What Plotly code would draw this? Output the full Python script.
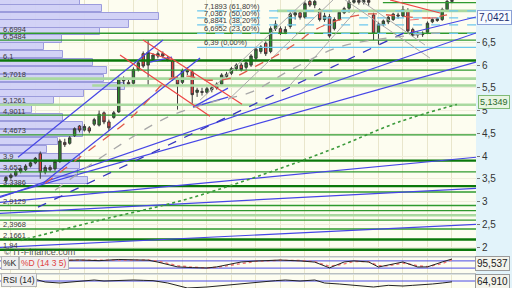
import plotly.graph_objects as go

# ---------------- data ----------------
opens  = [3.46,3.53,3.58,3.66,3.70,3.78,3.85,4.05,3.65,3.75,3.72,3.88,4.30,4.28,4.45,4.66,4.57,4.62,4.70,4.68,
          4.95,4.75,4.85,4.97,5.65,5.62,5.60,5.90,6.25,6.00,6.12,6.20,6.25,6.15,6.10,5.70,5.62,5.88,5.85,5.40,
          5.42,5.40,5.46,5.50,5.58,5.75,5.82,5.92,6.00,5.95,6.00,6.15,6.30,6.48,6.30,6.80,6.80,6.72,6.85,7.10,
          7.15,7.05,7.40,7.32,7.22,7.00,7.06,6.80,7.00,7.15,7.25,7.38,7.42,7.38,7.42,7.10,6.70,6.90,6.95,7.00,
          7.10,7.08,7.20,6.78,6.66,6.70,6.72,6.95,6.98,7.00,7.22,7.40]
highs  = [3.56,3.62,3.70,3.75,3.82,3.88,3.98,4.10,3.80,3.80,3.92,4.37,4.38,4.44,4.63,4.68,4.70,4.66,4.84,5.00,
          4.98,4.80,4.99,5.75,5.75,5.68,5.95,6.08,6.30,6.55,6.26,6.30,6.30,6.20,6.13,5.75,5.92,5.95,5.90,5.50,
          5.50,5.52,5.55,5.62,5.82,5.85,5.96,6.04,6.05,6.08,6.24,6.40,6.44,6.52,6.85,6.98,6.85,6.85,7.16,7.20,
          7.18,7.40,7.45,7.45,7.25,7.15,7.12,7.05,7.20,7.28,7.43,7.48,7.48,7.48,7.48,7.15,6.95,7.00,7.08,7.15,
          7.15,7.30,7.25,6.82,6.74,6.74,6.96,7.05,7.05,7.26,7.45,7.46]
lows   = [3.42,3.48,3.55,3.62,3.67,3.75,3.82,3.50,3.60,3.66,3.68,3.85,4.20,4.25,4.42,4.52,4.54,4.50,4.66,4.65,
          4.70,4.55,4.82,4.95,5.58,5.54,5.57,5.86,5.94,5.55,6.08,6.15,6.16,6.08,5.65,5.02,5.58,5.78,5.12,5.30,
          5.33,5.36,5.40,5.46,5.55,5.70,5.78,5.88,5.86,5.90,5.96,6.10,6.25,6.20,6.26,6.75,6.66,6.68,6.80,7.00,
          7.00,7.02,7.28,7.25,6.96,6.95,6.60,6.76,6.98,7.12,7.15,7.35,7.33,7.33,7.30,6.55,6.45,6.85,6.90,6.97,
          7.02,7.05,6.70,6.62,6.60,6.62,6.68,6.92,6.95,6.97,7.18,7.36]
closes = [3.53,3.58,3.66,3.72,3.78,3.85,3.95,3.65,3.75,3.70,3.88,4.33,4.25,4.40,4.60,4.57,4.65,4.55,4.80,4.92,
          4.75,4.62,4.95,5.70,5.70,5.58,5.90,6.05,5.98,6.28,6.22,6.25,6.20,6.12,5.70,5.58,5.88,5.85,5.35,5.45,
          5.40,5.48,5.50,5.58,5.78,5.80,5.92,6.00,5.90,6.05,6.20,6.35,6.40,6.25,6.80,6.90,6.70,6.78,7.12,7.15,
          7.05,7.35,7.32,7.40,7.00,7.08,6.64,7.00,7.16,7.24,7.38,7.42,7.38,7.42,7.38,6.70,6.90,6.97,7.05,7.12,
          7.08,7.22,6.75,6.65,6.70,6.67,6.92,7.00,7.02,7.22,7.40,7.42]
sessions = list(range(len(closes)))

# volume-at-price profile
vp_price  = [7.388,7.245,7.068,6.903,6.738,6.573,6.407,6.242,6.066,5.879,5.703,5.527,5.372,5.218,5.031,
             4.855,4.679,4.502,4.326,4.150,3.974,3.798,3.632,3.467]
vp_volume = [80,102,159,129,100,62,44,63,93,107,104,125,84,54,32,63,83,83,58,47,80,80,78,88]

# horizontal support / resistance levels
level_prices = [7.372,7.19,6.6994,6.5484,6.1,5.89,5.7018,5.55,5.1261,4.9011,4.4673,3.9,3.652,3.3386,3.21,
                2.9129,2.80,2.70,2.59,2.3968,2.1661,1.94]
level_start  = [76.9,55.3,None,None,None,21.2,None,17.6,None,None,None,None,None,None,None,
                None,None,None,None,None,None,None]
level_kind   = ['n','l','n','n','d','n','l','l','l','n','n','d','n','d','n',
                'n','n','l','n','n','d','d']
label_levels = [6.6994,6.5484,6.1,5.7018,5.1261,4.9011,4.4673,3.9,3.652,3.3386,2.9129,2.3968,2.1661,1.94]

# Fibonacci retracement
fib_prices = [7.1893,7.0367,6.8841,6.6952,6.39]
fib_pcts   = [61.80,50.00,38.20,23.60,0.00]
fib_from   = 39

# trend lines: (session0, price0, session1, price1)
blue_lines = [(2.45,3.974,32.04,6.551),(7.55,3.401,39.6,6.154),(-1.22,3.114,95.9,6.066),
              (-1.22,3.092,95.9,6.705),(82.4,6.705,95.9,7.057),(-1.22,2.742,95.9,3.291),
              (-1.22,1.993,95.9,2.499),(-1.22,2.982,95.9,3.974),(29.39,6.066,33.88,6.176),
              (38.16,5.075,45.3,5.493),(38.16,5.075,45.3,5.295)]
blue_dashed = [(6.53,2.876,82.45,6.771)]
red_lines  = [(27.96,6.551,48.16,5.141),(23.27,6.22,41.63,4.877),(29.39,6.264,33.88,6.11),
              (78.37,7.432,88.57,7.145)]
red_dashed = [(82.4,6.99,89.6,7.057)]
gray_lines = [(39.6,5.229,61.6,7.47),(45.3,5.229,67.1,7.47),(57.96,5.559,71.2,7.167),
              (69.2,7.432,86.5,6.154),(72.2,7.432,85.5,6.44)]

# moving averages
ma_red_idx = [8,17,25,29,33,37,41,46,51,55,59,63,68,74,80,86,90]
ma_red_val = [3.401,4.128,4.789,5.229,5.670,5.758,5.670,5.714,5.978,6.198,6.463,6.771,6.991,7.123,7.079,7.035,7.101]
ma_gray_idx = [10,21,33,42,50,58,68,78,90]
ma_gray_val = [3.247,4.084,4.855,5.185,5.405,5.89,6.396,6.595,6.727]
ma_green_idx = [3,19,36,52,67,80,92]
ma_green_val = [2.145,2.586,3.026,3.577,4.171,4.743,5.1349]

# stochastic (14 3 5)
stoch_idx = [2,6,11,15,19,23,27,29,31,33,35,38,41,43,45,48,51,56,60,63,66,69,71,74,76,78,81,84,86,89,91]
stoch_k   = [85,90,83,88,82,92,88,86,70,50,30,24,21,30,46,71,79,87,80,70,22,71,80,71,29,46,71,29,30,71,95.537]
stoch_d   = [84,88,85,86,84,89,89,87,78,60,40,28,22,26,38,60,76,85,83,74,35,55,75,74,40,40,62,40,32,58,90]
# RSI (14)
rsi_idx = [5,8,11,14,18,20,22,24,26,28,30,33,37,41,43,46,49,51,55,57,60,63,65,68,71,73,75,78,81,83,85,87,89,91]
rsi_val = [88,64,58,64,76,70,72,78,76,74,72,58,28,34,40,46,56,64,72,76,70,76,58,52,46,40,34,44,40,44,46,52,58,64.910]

last_price = 7.0421
ma_last = 5.1349
axis_ticks = [2, 2.5, 3, 3.5, 4, 4.5, 5, 5.5, 6, 6.5]

# ---------------- figure ----------------
X_MIN, X_MAX = -1.22, 95.9
PX_PER_SESSION = 4.9
FONT = "Liberation Sans, Arial, sans-serif"

def fmt(v, nd=None):
    s = (f"{v:.{nd}f}" if nd is not None else f"{v:g}")
    return s.replace('.', ',')

fig = go.Figure()

# volume profile bars
fig.add_trace(go.Bar(
    y=vp_price, x=[v / PX_PER_SESSION for v in vp_volume], base=X_MIN, orientation='h',
    width=0.155, marker=dict(color='rgba(208,208,246,0.95)', line=dict(color='#9c9cdc', width=1)),
    xaxis='x', yaxis='y', hoverinfo='skip'))

# horizontal levels
styles = {'n': ('#2f9a2f', 1.3), 'd': ('#0b780b', 2.3), 'l': ('#a9d9a0', 2.6)}
for p, s, k in zip(level_prices, level_start, level_kind):
    c, w = styles[k]
    fig.add_trace(go.Scatter(x=[X_MIN if s is None else s, X_MAX], y=[p, p], mode='lines',
                             line=dict(color=c, width=w), hoverinfo='skip'))

# fib lines
for p, pct in zip(fib_prices, fib_pcts):
    fig.add_trace(go.Scatter(x=[fib_from, X_MAX], y=[p, p], mode='lines', hoverinfo='skip',
                             line=dict(color='#6cc8ee', width=1.2, dash='solid' if pct == 0 else 'dash')))

def add_segments(segs, color, width, dash='solid'):
    for s0, p0, s1, p1 in segs:
        fig.add_trace(go.Scatter(x=[s0, s1], y=[p0, p1], mode='lines', hoverinfo='skip',
                                 line=dict(color=color, width=width, dash=dash)))

add_segments(gray_lines, '#ababab', 1)
add_segments(blue_lines, '#4646e6', 1.2)
add_segments(blue_dashed, '#3535c0', 1.3, 'dash')
add_segments(red_lines, '#ee4444', 1.2)
add_segments(red_dashed, '#ee7777', 1.2, 'dash')

fig.add_trace(go.Scatter(x=ma_green_idx, y=ma_green_val, mode='lines', hoverinfo='skip',
                         line=dict(color='#3b9a3b', width=1.6, dash='dot', shape='spline')))
fig.add_trace(go.Scatter(x=ma_gray_idx, y=ma_gray_val, mode='lines', hoverinfo='skip',
                         line=dict(color='#a8a8a8', width=1.3, dash='dash', shape='spline')))
fig.add_trace(go.Scatter(x=ma_red_idx, y=ma_red_val, mode='lines', hoverinfo='skip',
                         line=dict(color='#e05a4a', width=1.3, dash='dash', shape='spline')))

# candles
fig.add_trace(go.Candlestick(
    x=sessions, open=opens, high=highs, low=lows, close=closes, whiskerwidth=0,
    increasing=dict(fillcolor='#2a8a2a', line=dict(color='#3a3a3a', width=1)),
    decreasing=dict(fillcolor='#e84040', line=dict(color='#3a3a3a', width=1)),
    hoverinfo='skip', xaxis='x', yaxis='y'))

# stochastic panel
fig.add_trace(go.Scatter(x=[X_MIN, X_MAX], y=[80, 80], mode='lines', line=dict(color='#4a4ae6', width=1),
                         xaxis='x2', yaxis='y2', hoverinfo='skip'))
fig.add_trace(go.Scatter(x=[X_MIN, X_MAX], y=[20, 20], mode='lines', line=dict(color='#4a4ae6', width=1),
                         xaxis='x2', yaxis='y2', hoverinfo='skip'))
fig.add_trace(go.Scatter(x=stoch_idx, y=stoch_d, mode='lines', line=dict(color='#f07070', width=1.4, dash='dot'),
                         xaxis='x2', yaxis='y2', hoverinfo='skip'))
fig.add_trace(go.Scatter(x=stoch_idx, y=stoch_k, mode='lines', line=dict(color='#222', width=1),
                         xaxis='x2', yaxis='y2', hoverinfo='skip'))
# RSI panel
fig.add_trace(go.Scatter(x=[X_MIN, X_MAX], y=[70, 70], mode='lines', line=dict(color='#4a4ae6', width=1),
                         xaxis='x3', yaxis='y3', hoverinfo='skip'))
fig.add_trace(go.Scatter(x=rsi_idx, y=rsi_val, mode='lines', line=dict(color='#222', width=1),
                         xaxis='x3', yaxis='y3', hoverinfo='skip'))

W, H = 512, 288
XD = [0, 476 / W]
grid = '#e9e6cc'
fig.update_layout(
    width=W, height=H, margin=dict(l=0, r=0, t=0, b=0), showlegend=False,
    paper_bgcolor='#e2f3fa', plot_bgcolor='#fdfdf0', separators=', ',
    font=dict(family=FONT, size=10, color='#333'), bargap=0,
    xaxis=dict(domain=XD, range=[X_MIN, X_MAX], showticklabels=False, showgrid=True, gridcolor=grid,
               dtick=5, tick0=1, zeroline=False, rangeslider=dict(visible=False), anchor='y'),
    yaxis=dict(domain=[1 - 256 / H, 1], range=[1.803, 7.43], side='right',
               tickvals=axis_ticks, ticktext=[fmt(t) for t in axis_ticks],
               showgrid=True, gridcolor='#f0eedc', zeroline=False, ticks='outside', ticklen=3,
               tickcolor='#777', tickfont=dict(size=10, color='#333'), anchor='x'),
    xaxis2=dict(domain=XD, matches='x', showticklabels=False, showgrid=True, gridcolor=grid,
                dtick=5, tick0=1, zeroline=False, anchor='y2'),
    yaxis2=dict(domain=[1 - 273 / H, 1 - 257.5 / H], range=[-20.8, 108.3], side='right',
                showticklabels=False, showgrid=False, zeroline=False, anchor='x2'),
    xaxis3=dict(domain=XD, matches='x', showticklabels=False, showgrid=True, gridcolor=grid,
                dtick=5, tick0=1, zeroline=False, anchor='y3'),
    yaxis3=dict(domain=[0, 1 - 274.5 / H], range=[28, 109], side='right',
                showticklabels=False, showgrid=False, zeroline=False, anchor='x3'),
)

ann = []
for p in label_levels:
    ann.append(dict(xref='paper', yref='y', x=2 / W, y=p, xanchor='left', yanchor='bottom', yshift=-1.5,
                    text=fmt(p), showarrow=False, font=dict(size=7.5, color='#3a3a3a'), borderpad=0))
for p, pct in zip(fib_prices, fib_pcts):
    ann.append(dict(xref='x', yref='y', x=fib_from + 1.2, y=p, xanchor='left', yanchor='bottom', yshift=-1,
                    text=f"{fmt(p)} ({fmt(pct, 2)}%)", showarrow=False,
                    font=dict(size=7.5, color='#3a3a3a'), borderpad=0))
ann.append(dict(xref='paper', yref='y', x=494 / W, y=last_price, xanchor='center', yanchor='middle',
                text=fmt(last_price, 4), showarrow=False, font=dict(size=10, color='#1c2c70'),
                bgcolor='#f6fbff', bordercolor='#8aa0d6', borderwidth=1, borderpad=1))
ann.append(dict(xref='paper', yref='y', x=494 / W, y=ma_last, xanchor='center', yanchor='middle', yshift=2,
                text=fmt(ma_last, 4), showarrow=False, font=dict(size=9, color='#2a6a2a'),
                bgcolor='#e8f5e2', bordercolor='#80bb76', borderwidth=1, borderpad=1))
ann.append(dict(xref='paper', yref='paper', x=492 / W, y=1 - 263.5 / H, xanchor='center', yanchor='middle',
                text=fmt(stoch_k[-1], 3), showarrow=False, font=dict(size=10, color='#222'),
                bgcolor='#f4f4ec', bordercolor='#9a9a9a', borderwidth=1, borderpad=1))
ann.append(dict(xref='paper', yref='paper', x=492 / W, y=1 - 281.5 / H, xanchor='center', yanchor='middle',
                text=fmt(rsi_val[-1], 3), showarrow=False, font=dict(size=10, color='#222'),
                bgcolor='#f4f4ec', bordercolor='#9a9a9a', borderwidth=1, borderpad=1))
ann.append(dict(xref='paper', yref='paper', x=2 / W, y=1 - 252 / H, xanchor='left', yanchor='middle',
                text='© IT-Finance.com', showarrow=False, font=dict(size=9, color='#555')))
ann.append(dict(xref='paper', yref='paper', x=1 / W, y=1 - 263 / H, xanchor='left', yanchor='middle',
                text='%K', showarrow=False, font=dict(size=8.5, color='#222'),
                bgcolor='#efefef', bordercolor='#b5b5b5', borderwidth=1, borderpad=1))
ann.append(dict(xref='paper', yref='paper', x=19 / W, y=1 - 263 / H, xanchor='left', yanchor='middle',
                text='%D (14 3 5)', showarrow=False, font=dict(size=8.5, color='#e04040'),
                bgcolor='#efefef', bordercolor='#b5b5b5', borderwidth=1, borderpad=1))
ann.append(dict(xref='paper', yref='paper', x=1 / W, y=1 - 280 / H, xanchor='left', yanchor='middle',
                text='RSI (14)', showarrow=False, font=dict(size=8.5, color='#222'),
                bgcolor='#efefef', bordercolor='#b5b5b5', borderwidth=1, borderpad=1))
fig.update_layout(annotations=ann)

fig.update_layout(shapes=[
    dict(type='line', xref='paper', yref='paper', x0=0, x1=476 / W, y0=1 - 256.8 / H, y1=1 - 256.8 / H,
         line=dict(color='#a8a8a8', width=1)),
    dict(type='line', xref='paper', yref='paper', x0=0, x1=476 / W, y0=1 - 273.8 / H, y1=1 - 273.8 / H,
         line=dict(color='#a8a8a8', width=1)),
])

fig.write_html("out.html")
